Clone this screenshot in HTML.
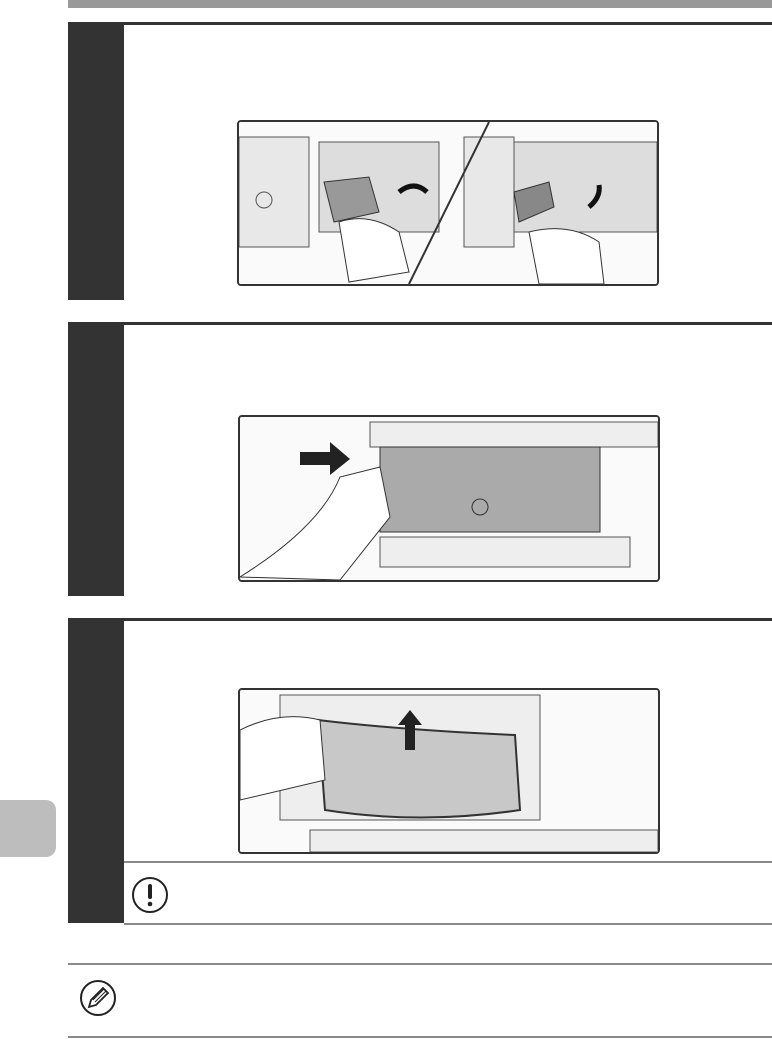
<!DOCTYPE html>
<html><head><meta charset="utf-8"><style>
body{margin:0;width:772px;height:1039px;background:#fff;position:relative;overflow:hidden;font-family:"Liberation Sans",sans-serif}
.a{position:absolute}
.side{background:#333;left:68px;width:56px}
.hl{height:3px;background:#333;left:68px;right:0}
.gl{height:2px;background:#8a8a8a}
.img{border:2px solid #333;border-radius:4px;background:#fff;overflow:hidden}
</style></head><body>
<div class="a" style="left:68px;right:0;top:0;height:8px;background:#999"></div>

<div class="a hl" style="top:22px"></div>
<div class="a side" style="top:22px;height:278px"></div>
<div class="a img" style="left:237px;top:120px;width:418px;height:162px">
<svg width="418" height="162">
<rect x="0" y="0" width="418" height="162" fill="#fafafa"/>
<rect x="0" y="15" width="70" height="110" fill="#e8e8e8" stroke="#555"/>
<rect x="225" y="15" width="50" height="110" fill="#e8e8e8" stroke="#555"/>
<circle cx="25" cy="78" r="8" fill="none" stroke="#555"/>
<path d="M80 20 L200 20 L200 110 L80 110Z" fill="#ddd" stroke="#555"/>
<path d="M275 20 L418 20 L418 110 L275 110Z" fill="#ddd" stroke="#555"/>
<path d="M85 60 L130 55 L140 90 L95 100Z" fill="#999" stroke="#333"/>
<path d="M275 70 L310 60 L315 85 L280 100Z" fill="#888" stroke="#333"/>
<path d="M100 100 Q130 90 160 110 L170 150 L110 160Z" fill="#fff" stroke="#333"/>
<path d="M290 110 Q330 100 360 120 L365 162 L300 162Z" fill="#fff" stroke="#333"/>
<line x1="250" y1="0" x2="170" y2="162" stroke="#333" stroke-width="2"/>
<path d="M160 70 q15 -12 28 0" fill="none" stroke="#111" stroke-width="5"/>
<path d="M350 85 q12 -10 10 -22" fill="none" stroke="#111" stroke-width="5"/>
</svg></div>

<div class="a hl" style="top:322px"></div>
<div class="a side" style="top:322px;height:274px"></div>
<div class="a img" style="left:238px;top:415px;width:418px;height:163px">
<svg width="418" height="163">
<rect width="418" height="163" fill="#fafafa"/>
<path d="M130 5 L418 5 L418 30 L130 30Z" fill="#eee" stroke="#555"/>
<path d="M140 30 L360 30 L360 115 L140 115Z" fill="#aaa" stroke="#333"/>
<circle cx="240" cy="90" r="8" fill="none" stroke="#333"/>
<path d="M140 120 L390 120 L390 150 L140 150Z" fill="#eee" stroke="#555"/>
<path d="M60 35 L90 35 L90 25 L110 42 L90 58 L90 48 L60 48Z" fill="#222"/>
<path d="M0 160 Q80 110 100 60 L140 50 L150 100 L100 163Z" fill="#fff" stroke="#333"/>
</svg></div>

<div class="a hl" style="top:618px"></div>
<div class="a side" style="top:618px;height:305px"></div>
<div class="a img" style="left:238px;top:688px;width:418px;height:162px">
<svg width="418" height="162">
<rect width="418" height="162" fill="#fafafa"/>
<path d="M40 5 L300 5 L300 130 L40 130Z" fill="#eee" stroke="#555"/>
<path d="M78 30 Q160 40 275 45 L280 120 Q180 135 85 120Z" fill="#c8c8c8" stroke="#333" stroke-width="2"/>
<path d="M165 60 L165 35 L158 35 L170 20 L182 35 L175 35 L175 60Z" fill="#222"/>
<path d="M0 40 Q40 20 80 30 L85 90 L0 110Z" fill="#fff" stroke="#333"/>
<rect x="70" y="140" width="348" height="22" fill="#eee" stroke="#555"/>
</svg></div>
<div class="a gl" style="left:124px;right:0;top:861px"></div>
<div class="a gl" style="left:124px;right:0;top:923px"></div>
<svg class="a" style="left:130px;top:875px" width="40" height="40"><circle cx="20" cy="20" r="17" fill="#fff" stroke="#222" stroke-width="2"/><rect x="18" y="9" width="4" height="15" rx="2" fill="#222"/><circle cx="20" cy="29" r="2.3" fill="#222"/></svg>

<div class="a" style="left:0;top:800px;width:56px;height:57px;background:#bdbdbd;border-radius:0 10px 10px 0"></div>

<div class="a gl" style="left:68px;right:0;top:963px"></div>
<div class="a gl" style="left:68px;right:0;top:1036px"></div>
<svg class="a" style="left:78px;top:978px" width="40" height="40"><circle cx="20" cy="20" r="17" fill="#fff" stroke="#222" stroke-width="2"/><path d="M11 29 L13 22 L25 10 L30 15 L18 27Z" fill="#fff" stroke="#222" stroke-width="1.8"/><path d="M15 22 L26 11 M17 24 L28 13" stroke="#222"/></svg>
</body></html>
